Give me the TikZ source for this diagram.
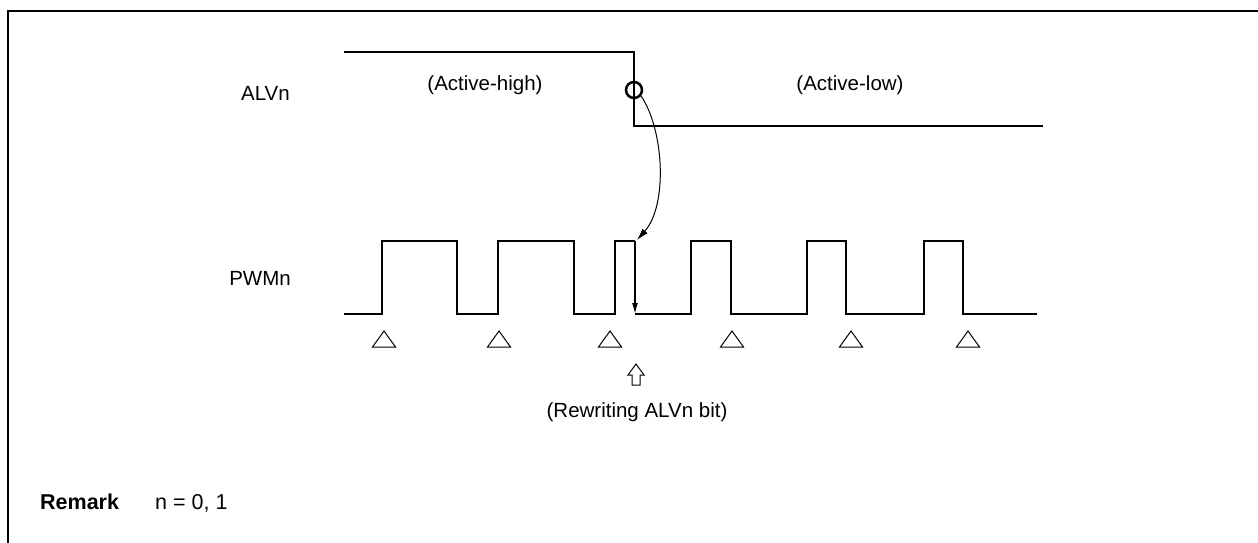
\documentclass[tikz,border=0pt]{standalone}
\usepackage{fontspec}
\setmainfont{Liberation Sans}
\usepackage{xcolor}
\usepackage{tikz}
\usetikzlibrary{arrows.meta}

\begin{document}
\begin{tikzpicture}[x=1pt,y=-1pt,
  sig/.style={line width=2.7pt,line join=miter},
  lbl/.style={font=\fontsize{20.5}{24}\selectfont,inner sep=0pt}]
\useasboundingbox (0,0) rectangle (1258,543);
% frame
\draw[line width=2.5pt] (8,543) -- (8,11) -- (1258,11);
% labels
\node[lbl,anchor=base east] (alv) at (290,100) {ALVn};
\node[lbl,anchor=base east] (pwm) at (291,285) {PWMn};
\node[lbl,anchor=base] (acth) at (485,90) {(Active-high)};
\node[lbl,anchor=base] (actl) at (850,91) {(Active-low)};
\node[lbl,anchor=base] (rew) at (637,417) {(Rewriting ALVn bit)};
\node[lbl,anchor=base west,font=\fontsize{21.5}{24}\selectfont\bfseries] (rem) at (40,509) {Remark};
\node[lbl,anchor=base west,font=\fontsize{21.5}{24}\selectfont] (remn) at (155,509) {n = 0, 1};
% ALVn signal
\draw[sig] (344,52) -- (634,52) -- (634,126) -- (1043,126);
\node[circle,draw,line width=2.5pt,minimum size=16pt,inner sep=0pt] (sw) at (634,90) {};
% PWMn signal
\draw[sig] (344,314) -| (382,241) -| (457,314) -| (498,241) -| (574,314) -| (615,241) -- (635,241);
\draw[sig] (635,314) -| (691,241) -| (731,314) -| (807,241) -| (846,314) -| (924,241) -| (963,314) -- (1037,314);
\coordinate (fall) at (635,241);
\coordinate (low) at (635,314);
\draw[line width=1.5pt,-{Latex[length=11pt,width=6pt]}] (fall) -- (low);
% curved arrow
\coordinate (hit) at (637,240);
\draw[line width=1pt,-{Latex[length=12pt,width=7pt]}] (sw.-40) .. controls (664,130) and (668,205) .. (hit);
% period marks
\foreach \t in {384,499,610,732,851,968}
  \draw[line width=1pt] (\t-11.5,347) -- (\t,331) -- (\t+11.5,347) -- cycle;
% hollow up arrow
\draw[line width=1pt] (636,364) -- (644,375) -- (640,375) -- (640,385) -- (632,385) -- (632,375) -- (628,375) -- cycle;
\end{tikzpicture}
\end{document}
